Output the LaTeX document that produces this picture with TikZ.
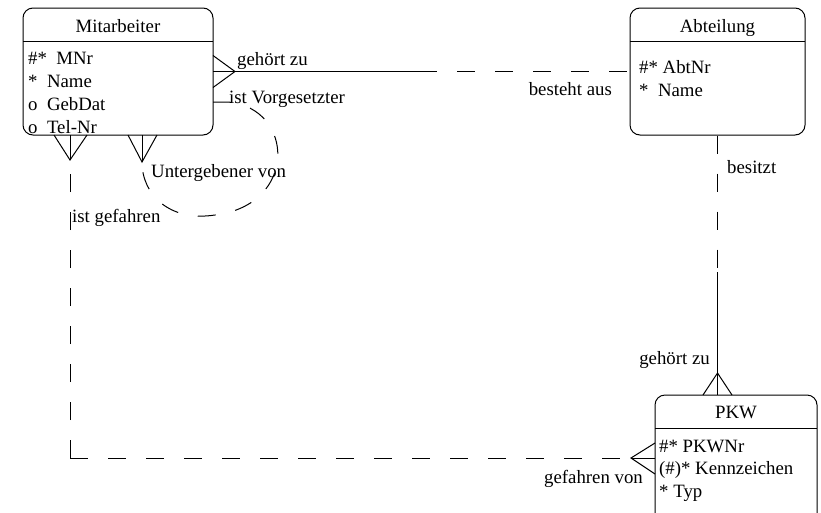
\documentclass[tikz,border=0pt]{standalone}
\usepackage{fontspec}
\setmainfont{Liberation Serif}
\usetikzlibrary{calc}

\tikzset{
	entity/.style={draw, rounded corners=10pt, line width=1pt, inner sep=0pt},
	txt/.style={inner sep=0pt, font=\fontsize{18.8}{23}\selectfont},
	attr/.style={txt, anchor=base west},
	rel/.style={line width=1pt},
	opt/.style={line width=1pt, dash pattern=on 18pt off 20pt},
}

\begin{document}
\begin{tikzpicture}[x=1pt, y=-1pt]
			%%%%% START %%%%%
			\useasboundingbox (0,0) rectangle (821,512);
			\clip (0,0) rectangle (821,512);
			
			% Mitarbeiter
			\node[entity, minimum width=190pt, minimum height=127pt] (mitarbeiter) at (118,71.5) {};
			\draw[rel] (23,41) -- (213,41);
			\node[txt, anchor=base] (mitarbeiter-t) at (118,32) {Mitarbeiter};
			\node[attr] (ma1) at (28,64.5) {\#*\ \ MNr};
			\node[attr] (ma2) at (28,87.5) {*\ \ Name};
			\node[attr] (ma3) at (28,110.5) {o\ \ GebDat};
			\node[attr] (ma4) at (28,133.5) {o\ \ Tel-Nr};
			
			% Abteilung
			\node[entity, minimum width=175pt, minimum height=127pt] (abteilung) at (717.5,71.5) {};
			\draw[rel] (630,41) -- (805,41);
			\node[txt, anchor=base] (abteilung-t) at (717.5,32) {Abteilung};
			\node[attr] (ab1) at (639,73) {\#* AbtNr};
			\node[attr] (ab2) at (639,96) {*\ \ Name};
			
			% PKW
			\node[entity, minimum width=162pt, minimum height=150pt] (pkw) at (736,470) {};
			\draw[rel] (655,428) -- (817,428);
			\node[txt, anchor=base] (pkw-t) at (736,418) {PKW};
			\node[attr] (pk1) at (659,452) {\#* PKWNr};
			\node[attr] (pk2) at (659,474.5) {(\#)* Kennzeichen};
			\node[attr] (pk3) at (659,497) {* Typ};
			
			% Mitarbeiter -- Abteilung
			\coordinate (ma-ab) at (235,71.5);
			\coordinate (ma-ab-mitte) at (437,71.5);
			\draw[rel] (213,55.5) -- (ma-ab) -- (213,87.5);
			\draw[rel] (213,71.5) -- (ma-ab) -- (ma-ab-mitte);
			\draw[opt, dash phase=18pt] (ma-ab-mitte) -- (abteilung.west);
			\node[txt, anchor=base west] (l-gehoert) at (237,65) {gehört zu};
			\node[txt, anchor=base east] (l-besteht) at (612,95) {besteht aus};
			
			% Abteilung -- PKW
			\coordinate (ab-pk) at (717.5,373);
			\coordinate (ab-pk-mitte) at (717.5,272);
			\draw[opt] (abteilung.south) -- (ab-pk-mitte);
			\draw[rel] (ab-pk-mitte) -- (ab-pk) -- (717.5,395);
			\draw[rel] (703,395) -- (ab-pk) -- (732,395);
			\node[txt, anchor=base west] (l-besitzt) at (727,173) {besitzt};
			\node[txt, anchor=base east] (l-gehoert2) at (710,364) {gehört zu};
			
			% Mitarbeiter -- PKW
			\coordinate (ma-pk) at (70,160);
			\coordinate (pk-ma) at (631,458);
			\coordinate (ma-pk-knick) at (70,458);
			\draw[rel] (54,135) -- (ma-pk) -- (87,135);
			\draw[rel] (70,135) -- (ma-pk);
			\draw[rel] (655,443) -- (pk-ma) -- (655,474);
			\draw[rel] (655,458) -- (pk-ma);
			\draw[opt] (ma-pk-knick) -- (ma-pk);
			\draw[opt] (ma-pk-knick) -- (pk-ma);
			\node[txt, anchor=base west] (l-gefahren) at (72,222) {ist gefahren};
			\node[txt, anchor=base east] (l-gefahren2) at (643,483) {gefahren von};
			
			% Mitarbeiter -- Mitarbeiter
			\coordinate (ma-ma) at (142,162);
			\draw[rel] (128,135) -- (ma-ma) -- (157,135);
			\draw[rel] (142,135) -- (ma-ma);
			\draw[opt] (213,102) -- (228,102) .. controls (295,108) and (298,205) .. (215,215)
				.. controls (170,222) and (142,195) .. (ma-ma);
			\node[txt, anchor=base west] (l-vorgesetzt) at (229,103) {ist Vorgesetzter};
			\node[txt, anchor=base west] (l-unter) at (151,177) {Untergebener von};
			
			%%%%% END %%%%%
\end{tikzpicture}
\end{document}
